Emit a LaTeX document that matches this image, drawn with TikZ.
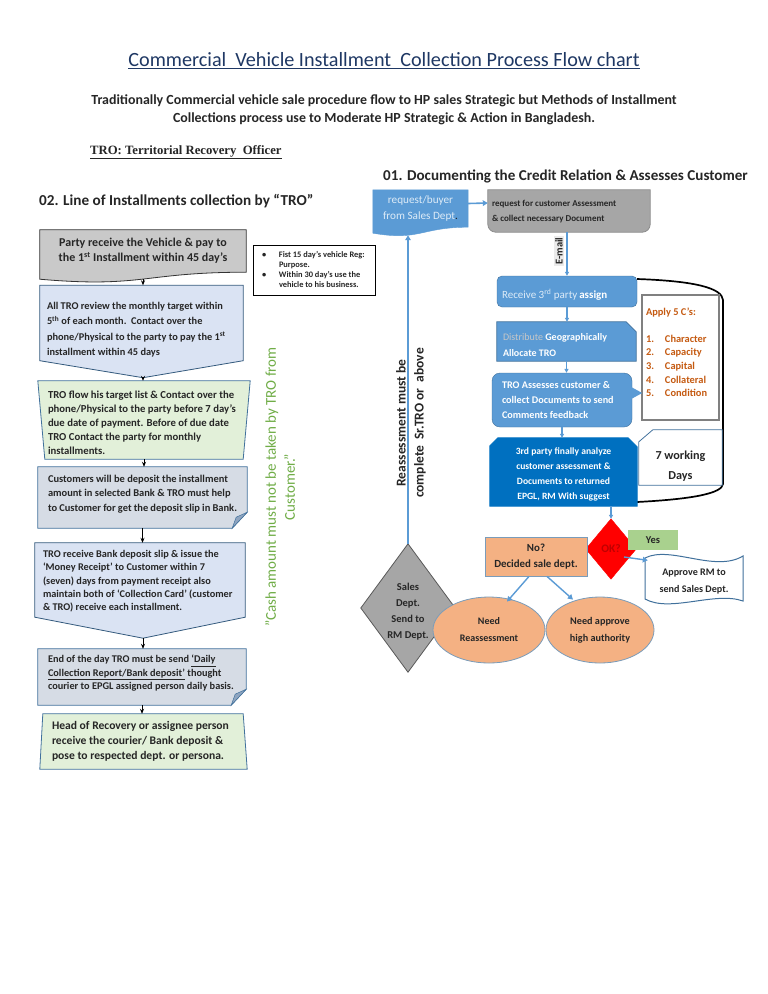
\documentclass[tikz,border=0pt]{standalone}
\usepackage{fontspec}
\setmainfont{Carlito}
\newfontfamily\trofont{Liberation Serif}
\usetikzlibrary{calc,arrows.meta,shapes.geometric}
\pgfdeclarelayer{bg}
\pgfsetlayers{bg,main}
\definecolor{blueM}{HTML}{5B9BD5}
\definecolor{blueD}{HTML}{0070C0}
\definecolor{blueB}{HTML}{41719C}
\definecolor{blueL}{HTML}{DDEBF7}
\definecolor{ltblue}{HTML}{DAE3F3}
\definecolor{ltgreen}{HTML}{E2F0D9}
\definecolor{notegray}{HTML}{D6DCE5}
\definecolor{foldc}{HTML}{8FA5C0}
\definecolor{grayA}{HTML}{C9C9C9}
\definecolor{grayB}{HTML}{A6A6A6}
\definecolor{orangeL}{HTML}{F4B183}
\definecolor{brownC}{HTML}{C55A11}
\definecolor{navy}{HTML}{1F3864}
\definecolor{greenT}{HTML}{70AD47}
\definecolor{yesG}{HTML}{A9D18E}
\definecolor{txtC}{HTML}{262626}
\definecolor{okR}{HTML}{C00000}
\newcommand{\ltab}[2]{\begin{tabular}{@{}p{#1}@{}}#2\end{tabular}}
\newcommand{\ctab}[1]{\begin{tabular}{@{}c@{}}#1\end{tabular}}
\newcommand{\lead}[1]{\rule{0pt}{\dimexpr\ht\strutbox+#1\relax}}
\begin{document}
\begin{tikzpicture}[x=1pt,y=-1pt,
  every node/.style={inner sep=0pt, text=txtC},
  bx/.style={font=\bfseries\fontsize{10.4}{14}\selectfont},
  larr/.style={-{Stealth[length=5pt,width=4pt]}, black, line width=0.7pt},
  barr/.style={-{Triangle[length=5pt,width=5.5pt]}, blueM, line width=1.6pt},
  sarr/.style={-{Triangle[length=4pt,width=4pt]}, blueM, line width=1.1pt},
  outl/.style={line width=0.8pt},
]
\useasboundingbox (0,0) rectangle (768,994);
\begin{pgfonlayer}{bg}
\fill[white] (0,0) rectangle (768,994);
\end{pgfonlayer}

% ---------- headings ----------
\node[font=\fontsize{20.2}{22}\selectfont, text=navy] (title) at (384,61)
  {\underline{Commercial\ \ Vehicle Installment\ \ Collection Process Flow chart}};
\node[font=\bfseries\fontsize{13.9}{18}\selectfont] (sub) at (384,110)
  {\ctab{Traditionally Commercial vehicle sale procedure flow to HP sales Strategic but Methods of Installment\\Collections process use to Moderate HP Strategic \& Action in Bangladesh.}};
\node[font=\trofont\bfseries\fontsize{12.7}{14}\selectfont, anchor=west] (tro) at (90,152)
  {\underline{TRO: Territorial Recovery\ \ Officer}};
\node[font=\bfseries\fontsize{15.1}{17}\selectfont, anchor=west] (h1) at (383,176)
  {01. Documenting the Credit Relation \& Assesses Customer};
\node[font=\bfseries\fontsize{15.2}{17}\selectfont, anchor=west] (h2) at (39,201)
  {02. Line of Installments collection by “TRO”};

% ---------- left column ----------
\node[bx, font=\bfseries\fontsize{12}{15}\selectfont, minimum width=206pt, minimum height=42pt] (b1) at (143,251)
  {\ctab{Party receive the Vehicle \& pay to\\the 1\textsuperscript{st} Installment within 45 day’s}};
\coordinate (b1b) at ($(b1.south)+(0,7)$);

\node[bx, font=\bfseries\fontsize{10.35}{15.5}\selectfont, minimum width=203pt, minimum height=60pt, inner xsep=7pt] (b2) at (141.5,323)
  {\ltab{189pt}{\lead{13pt}All TRO review the monthly target within\\5\textsuperscript{th} of each month.\ \ Contact over the\\phone/Physical to the party to pay the 1\textsuperscript{st}\\installment within 45 days}};
\coordinate (b2t) at ($(b2.south)+(1.5,17)$);

\node[bx, font=\bfseries\fontsize{10.7}{14}\selectfont, minimum width=212pt, minimum height=70pt, inner xsep=10pt] (b3) at (144,420)
  {\ltab{192pt}{\lead{8pt}TRO flow his target list \& Contact over the\\phone/Physical to the party before 7 day’s\\due date of payment. Before of due date\\TRO Contact the party for monthly\\installments.}};

\node[bx, font=\bfseries\fontsize{10.45}{14.5}\selectfont, minimum width=209pt, minimum height=61pt, inner xsep=10pt] (b4) at (142.5,497.5)
  {\ltab{189pt}{Customers will be deposit the installment\\amount in selected Bank \& TRO must help\\to Customer for get the deposit slip in Bank.\\[7pt]}};

\node[bx, font=\bfseries\fontsize{10.3}{13.4}\selectfont, minimum width=210pt, minimum height=74pt, inner xsep=8pt] (b5) at (140,580)
  {\ltab{194pt}{\lead{3pt}TRO receive Bank deposit slip \& issue the\\‘Money Receipt’ to Customer within 7\\(seven) days from payment receipt also\\maintain both of ‘Collection Card’ (customer\\\& TRO) receive each installment.}};
\coordinate (b5t) at ($(b5.south)+(3,21)$);

\node[bx, font=\bfseries\fontsize{10.3}{13.5}\selectfont, minimum width=208pt, minimum height=56pt, inner xsep=10pt] (b6) at (142,677)
  {\ltab{188pt}{End of the day TRO must be send \underline{‘Daily}\\\underline{Collection Report/Bank deposit’} thought\\courier to EPGL assigned person daily basis.\\[7pt]}};

\node[bx, font=\bfseries\fontsize{11.6}{15}\selectfont, minimum width=207pt, minimum height=55pt, inner xsep=12pt] (b7) at (143.5,741.5)
  {\ltab{183pt}{Head of Recovery or assignee person\\receive the courier/ Bank deposit \&\\pose to respected dept. or persona.}};

\node[draw=black, line width=0.8pt, fill=white, font=\bfseries\fontsize{8.4}{10}\selectfont, minimum width=122pt, minimum height=50pt, inner xsep=9pt] (nt) at (314,270)
  {\ltab{104pt}{\makebox[17pt][l]{•}Fist 15 day’s vehicle Reg:\\\hspace*{17pt}Purpose.\\\makebox[17pt][l]{•}Within 30 day’s use the\\\hspace*{17pt}vehicle to his business.}};

\node[rotate=90, font=\fontsize{15}{19}\selectfont, text=greenT] (cash) at (281.5,487)
  {\ctab{”Cash amount must not be taken by TRO from\\Customer.”}};

% ---------- right column ----------
\node[font=\fontsize{11.2}{16}\selectfont, text=blueL, minimum width=95pt, minimum height=37pt] (rq) at (420.5,208.5)
  {\ctab{request/buyer\\from Sales Dept{\color{txtC}.}}};
\coordinate (rqb) at ($(rq.south)+(-12.5,8)$);

\node[bx, font=\bfseries\fontsize{9}{15}\selectfont, minimum width=162pt, minimum height=42pt, inner xsep=4pt] (ga) at (569,211)
  {\ltab{154pt}{request for customer Assessment\\\& collect necessary Document}};

\node[draw=blueB, fill=blueM, rounded corners=5pt, minimum width=140pt, minimum height=31pt, inner xsep=5pt, font=\fontsize{11}{12}\selectfont] (rcv) at (567,291.5)
  {\ltab{130pt}{{\color{blueL}Receive 3\textsuperscript{rd} party}\,{\color{white}\bfseries assign}}};

\node[bx, font=\bfseries\fontsize{10}{16}\selectfont, text=white, minimum width=139pt, minimum height=39pt, inner xsep=6pt] (dist) at (566.5,341.5)
  {\ltab{127pt}{{\mdseries\color{black!22}Distribute} Geographically\\Allocate TRO}};

\node[bx, font=\bfseries\fontsize{10.2}{15}\selectfont, text=white, draw=blueB, fill=blueM, rounded corners=8pt, minimum width=140pt, minimum height=54pt, inner xsep=10pt] (tr) at (562,400)
  {\ltab{120pt}{TRO Assesses customer \&\\collect Documents to send\\Comments feedback}};

\node[bx, font=\bfseries\fontsize{9.6}{15}\selectfont, text=white, minimum width=147pt, minimum height=68pt] (th) at (563.5,472)
  {\ctab{\lead{3pt}3rd party finally analyze\\customer assessment \&\\Documents to returned\\EPGL, RM With suggest}};

\node[draw=black!50, line width=2.4pt, fill=white, font=\bfseries\fontsize{10.4}{13.6}\selectfont, text=brownC, minimum width=77pt, minimum height=125pt, inner xsep=4pt] (fc) at (680.5,357.5)
  {\begin{tabular}{@{}p{19pt}@{}p{50pt}@{}}\multicolumn{2}{@{}l}{Apply 5 C’s:}\\[13pt]
  1. & Character\\ 2. & Capacity\\ 3. & Capital\\ 4. & Collateral\\ 5. & Condition\\[8pt]\end{tabular}};

\node[font=\bfseries\fontsize{12.2}{20}\selectfont, minimum width=83pt, minimum height=55pt] (w7) at (680.5,457.5)
  {\ctab{\lead{15pt}7 working\\Days}};

\node[minimum width=50pt, minimum height=60pt, font=\bfseries\fontsize{11.5}{12}\selectfont, text=okR] (ok) at (611,549) {OK?};
\node[fill=yesG, minimum width=50pt, minimum height=20pt, font=\bfseries\fontsize{10.5}{12}\selectfont] (yes) at (653,540) {Yes};

\node[minimum width=98pt, minimum height=47pt, font=\bfseries\fontsize{10.1}{17}\selectfont] (ap) at (694,579)
  {\ctab{\lead{3pt}Approve RM to\\send Sales Dept.}};

\node[draw=blueB!70, fill=orangeL, line width=0.8pt, minimum width=102pt, minimum height=39pt, font=\bfseries\fontsize{10.9}{16}\selectfont] (no) at (536,556.5)
  {\ctab{No?\\Decided sale dept.}};

\node[minimum width=94pt, minimum height=128pt, font=\bfseries\fontsize{10.5}{16}\selectfont] (gd) at (408,608)
  {\ctab{\lead{6pt}Sales\\Dept.\\Send to\\RM Dept.}};

\node[ellipse, draw=blueB!70, fill=orangeL, line width=0.8pt, minimum width=112pt, minimum height=66pt, font=\bfseries\fontsize{10}{17}\selectfont] (e1) at (489,630)
  {\ctab{Need\\Reassessment}};
\node[ellipse, draw=blueB!70, fill=orangeL, line width=0.8pt, minimum width=108pt, minimum height=66pt, font=\bfseries\fontsize{10.2}{17}\selectfont] (e2) at (600,630)
  {\ctab{Need approve\\high authority}};

% ---------- background shapes ----------
\begin{pgfonlayer}{bg}
\draw[fill=grayA, draw=black!80, outl] (b1.north west) -- (b1.north east) -- (b1.south east)
  .. controls (b1.south) and ($(b1.south)+(0,16)$) .. ($(b1.south west)+(0,7)$) -- cycle;
\draw[fill=ltblue, draw=blueB!80!black, outl] (b2.north west) -- (b2.north east) -- (b2.south east) -- (b2t) -- (b2.south west) -- cycle;
\draw[fill=ltgreen, draw=blueB, outl] (b3.north west) -- (b3.north east) -- ($(b3.south east)+(-7,0)$) -- ($(b3.south west)+(7,0)$) -- cycle;
\draw[fill=notegray, draw=blueB, outl] (b4.north west) -- (b4.north east) -- ($(b4.south east)+(0,-16)$) -- ($(b4.south east)+(-15,0)$) -- (b4.south west) -- cycle;
\filldraw[fill=foldc, draw=blueB, line width=0.5pt] ($(b4.south east)+(0,-16)$) -- ($(b4.south east)+(-15,0)$) -- ($(b4.south east)+(-11,-11)$) -- cycle;
\draw[fill=ltblue, draw=blueB!80!black, outl] (b5.north west) -- (b5.north east) -- (b5.south east) -- (b5t) -- (b5.south west) -- cycle;
\draw[fill=notegray, draw=blueB, outl] (b6.north west) -- (b6.north east) -- ($(b6.south east)+(0,-16)$) -- ($(b6.south east)+(-15,0)$) -- (b6.south west) -- cycle;
\filldraw[fill=foldc, draw=blueB, line width=0.5pt] ($(b6.south east)+(0,-16)$) -- ($(b6.south east)+(-15,0)$) -- ($(b6.south east)+(-11,-11)$) -- cycle;
\draw[fill=ltgreen, draw=blueB, outl] ($(b7.north west)+(3,0)$) -- ($(b7.north east)+(-4,0)$) -- (b7.south east) -- (b7.south west) -- cycle;

\draw[fill=blueM, draw=blueM] (rq.north west) -- (rq.north east) -- (rq.south east)
  .. controls (rq.south) and ($(rq.south)+(0,14)$) .. ($(rq.south west)+(0,6)$) -- cycle;
\draw[fill=grayB, draw=black!45, outl] (ga.north west) -- (ga.north east) -- ($(ga.south east)+(0,-8)$)
  arc[start angle=0, end angle=-90, radius=8pt] -- ($(ga.south west)+(8,0)$)
  arc[start angle=-90, end angle=-180, radius=8pt] -- cycle;
\draw[line width=1.7pt] (637,279) .. controls (695,281) and (722,288) .. (723,300) -- (723,484)
  .. controls (722,493) and (695,499) .. (637,502);
\draw[fill=blueM, draw=blueB, outl] (dist.north west) -- ($(dist.north east)+(-10,0)$) -- ($(dist.north east)+(0,10)$) -- (dist.south east) -- (dist.south west) -- cycle;
\draw[fill=blueD, draw=blueD, outl] ($(th.north west)+(8,0)$) -- ($(th.north east)+(-9,0)$) -- ($(th.north east)+(0,9)$) -- (th.south east) -- (th.south west) -- ($(th.north west)+(0,8)$) -- cycle;
\draw[fill=white, draw=blueB, outl] ($(w7.north west)+(0,12)$) -- ($(w7.north west)+(14,0)$) -- (w7.north east) -- (w7.south east) -- (w7.south west) -- cycle;
\draw[fill=red, draw=red] (ok.north) -- (ok.east) -- (ok.south) -- (ok.west) -- cycle;
\draw[fill=white, draw=blueB, line width=1pt, shift={(ap.center)}] (-49,-21) .. controls (-24,-34) and (21,-6) .. (49,-23)
  -- (49,22) .. controls (21,12) and (-24,34) .. (-49,20) -- cycle;
\draw[fill=grayB, draw=black!65, outl] (gd.north) -- (gd.east) -- (gd.south) -- (gd.west) -- cycle;
\end{pgfonlayer}
\fill[blueM] ($(tr.east)+(-1,-13)$) -- ($(tr.east)+(10,-7)$) -- ($(tr.east)+(-1,-1)$) -- cycle;

% ---------- connectors ----------
\draw[larr] (b1b) -- (b1b |- b2.north);
\draw[larr] (b2t) -- (b2t |- b3.north);
\draw[larr] (b3.south) -- (b3.south |- b4.north);
\draw[larr] (b4.south) -- (b4.south |- b5.north);
\draw[larr] (b5t) -- (b5t |- b6.north);
\draw[larr] (b6.south) -- (b6.south |- b7.north);

\draw[barr] ($(rq.east)+(0,-5)$) -- ($(ga.west)+(0,-8)$);
\draw[sarr, line width=1.4pt] (rcv.north |- ga.south) -- (rcv.north);
\node[rotate=90, fill=black!8, inner sep=1.5pt, font=\bfseries\fontsize{10.5}{11}\selectfont] (em) at (559,251) {E-mail};
\draw[sarr] (rcv.south) -- (rcv.south |- dist.north);
\draw[sarr] (dist.south) -- (dist.south |- tr.north);
\draw[sarr] (tr.south) -- (tr.south |- th.north);
\draw[sarr] (th.south -| ok.north) -- (ok.north);
\draw[barr, line width=1.4pt] ($(ok.center)+(13,8)$) -- ($(ap.north west)+(3,5)$);
\draw[barr, line width=1.4pt] ($(no.south)+(-7,0)$) -- ($(e1.north)+(18,5)$);
\draw[barr, line width=1.4pt] ($(no.south)+(11,0)$) -- ($(e2.north)+(-27,3)$);
\draw[barr, line width=1.4pt] (gd.north) -- (rqb);
\node[rotate=90, font=\bfseries\fontsize{13.5}{18}\selectfont] (ra) at (411,423)
  {\ctab{Reassessment must be\\complete\ \ Sr.TRO or\ \ above}};
\end{tikzpicture}
\end{document}
